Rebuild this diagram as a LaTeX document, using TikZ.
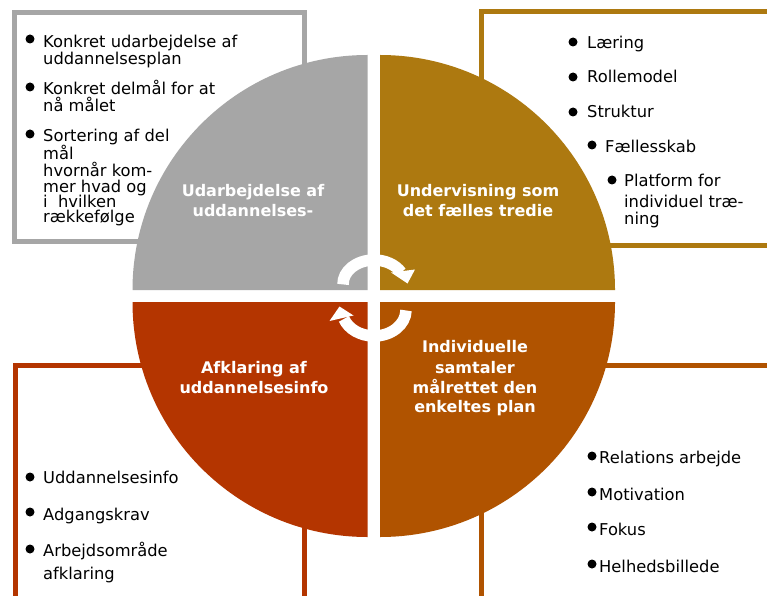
\documentclass[tikz,border=0pt]{standalone}
\usepackage{fontspec}
\setmainfont{DejaVu Sans}
\definecolor{qgray}{HTML}{A6A6A6}
\definecolor{qgold}{HTML}{AD7910}
\definecolor{qred}{HTML}{B43500}
\definecolor{qbrown}{HTML}{B05300}
\begin{document}
\begin{tikzpicture}[x=1pt,y=1pt,
  itemtext/.style={anchor=base west, inner sep=0pt, font=\fontsize{16.3}{18}\selectfont},
  qlabel/.style={anchor=base, inner sep=0pt, text=white, font=\fontsize{16}{20}\selectfont\bfseries},
  bulletdot/.style={circle, fill=black, inner sep=0pt, minimum size=9pt},
  boxline/.style={line width=5pt},
  cyclebody/.style={white, line width=11.5pt},
  cyclehead/.style={fill=white}
]
\useasboundingbox (0,0) rectangle (767,595);
\clip (0,0) rectangle (767,595);
\fill[white] (0,0) rectangle (767,595);

% frames
\draw[boxline, qgray] (14.5,353.5) rectangle (304.5,582.5);
\draw[boxline, qgold] (481,349.5) rectangle (800,583);
\draw[boxline, qred] (15,-20) rectangle (304.5,229.5);
\draw[boxline, qbrown] (481,-20) rectangle (800,229.5);

% quadrants
\fill[qgray] (367.5,305) -- ++(-235,0) arc[start angle=180,end angle=90,radius=235pt] -- cycle;
\fill[qgold] (380,305) -- ++(0,235) arc[start angle=90,end angle=0,radius=235pt] -- cycle;
\fill[qred] (367.5,293) -- ++(-235,0) arc[start angle=180,end angle=270,radius=235pt] -- cycle;
\fill[qbrown] (380,293) -- ++(235,0) arc[start angle=0,end angle=-90,radius=235pt] -- cycle;

% cycle arrows
\coordinate (uc) at (374,311);
\coordinate (lc) at (374,285);
\draw[cyclebody] (uc) ++(181:31pt and 24pt) arc[start angle=181,end angle=29,x radius=31pt,y radius=24pt];
\fill[cyclehead] (391,322.5) -- (415,325.5) -- (407.5,311.5) -- cycle;
\draw[cyclebody] (lc) ++(-1:32pt and 26pt) arc[start angle=-1,end angle=-160,x radius=32pt,y radius=26pt];
\fill[cyclehead] (329.5,274) -- (353.5,279.5) -- (339.5,288.5) -- cycle;

% quadrant labels
\node[qlabel] (g1) at (253,398) {Udarbejdelse af};
\node[qlabel] (g2) at (253,378) {uddannelses-};
\node[qlabel] (o1) at (478,398) {Undervisning som};
\node[qlabel] (o2) at (478,378) {det fælles tredie};
\node[qlabel] (r1) at (254,222) {Afklaring af};
\node[qlabel] (r2) at (254,202) {uddannelsesinfo};
\node[qlabel] (b1) at (475,243) {Individuelle};
\node[qlabel] (b2) at (475,222) {samtaler};
\node[qlabel] (b3) at (475,202) {målrettet den};
\node[qlabel] (b4) at (475,183) {enkeltes plan};

% top-left list
\node[bulletdot] (tld1) at (30,556) {};
\node[itemtext] (tl1) at (43,547) {Konkret udarbejdelse af};
\node[itemtext] (tl2) at (43,530) {uddannelsesplan};
\node[bulletdot] (tld2) at (30,508) {};
\node[itemtext] (tl3) at (43,500) {Konkret delmål for at};
\node[itemtext] (tl4) at (43,483) {nå målet};
\node[bulletdot] (tld3) at (30,461) {};
\node[itemtext] (tl5) at (43,453) {Sortering af del};
\node[itemtext] (tl6) at (43,435) {mål};
\node[itemtext] (tl7) at (43,418) {hvornår kom-};
\node[itemtext] (tl8) at (43,402) {mer hvad og};
\node[itemtext] (tl9) at (43,387) {i~~hvilken};
\node[itemtext] (tl10) at (43,372) {rækkefølge};

% top-right list
\node[bulletdot] (trd1) at (573,553) {};
\node[itemtext] (tr1) at (587,546) {Læring};
\node[bulletdot] (trd2) at (573,518) {};
\node[itemtext] (tr2) at (587,512) {Rollemodel};
\node[bulletdot] (trd3) at (573,483) {};
\node[itemtext] (tr3) at (587,477) {Struktur};
\node[bulletdot] (trd4) at (592,450) {};
\node[itemtext] (tr4) at (605,442) {Fællesskab};
\node[bulletdot] (trd5) at (612,415) {};
\node[itemtext] (tr5) at (624,408) {Platform for};
\node[itemtext] (tr6) at (624,387) {individuel træ-};
\node[itemtext] (tr7) at (624,370) {ning};

% bottom-left list
\node[bulletdot] (bld1) at (30,118) {};
\node[itemtext] (bl1) at (43,112) {Uddannelsesinfo};
\node[bulletdot] (bld2) at (30,83) {};
\node[itemtext] (bl2) at (43,75) {Adgangskrav};
\node[bulletdot] (bld3) at (30,46) {};
\node[itemtext] (bl3) at (43,39) {Arbejdsområde};
\node[itemtext] (bl4) at (43,16) {afklaring};

% bottom-right list
\node[bulletdot] (brd1) at (592,139) {};
\node[itemtext] (br1) at (599,132) {Relations arbejde};
\node[bulletdot] (brd2) at (592,103) {};
\node[itemtext] (br2) at (599,95) {Motivation};
\node[bulletdot] (brd3) at (592,68) {};
\node[itemtext] (br3) at (599,60) {Fokus};
\node[bulletdot] (brd4) at (592,31) {};
\node[itemtext] (br4) at (599,23) {Helhedsbillede};
\end{tikzpicture}
\end{document}
